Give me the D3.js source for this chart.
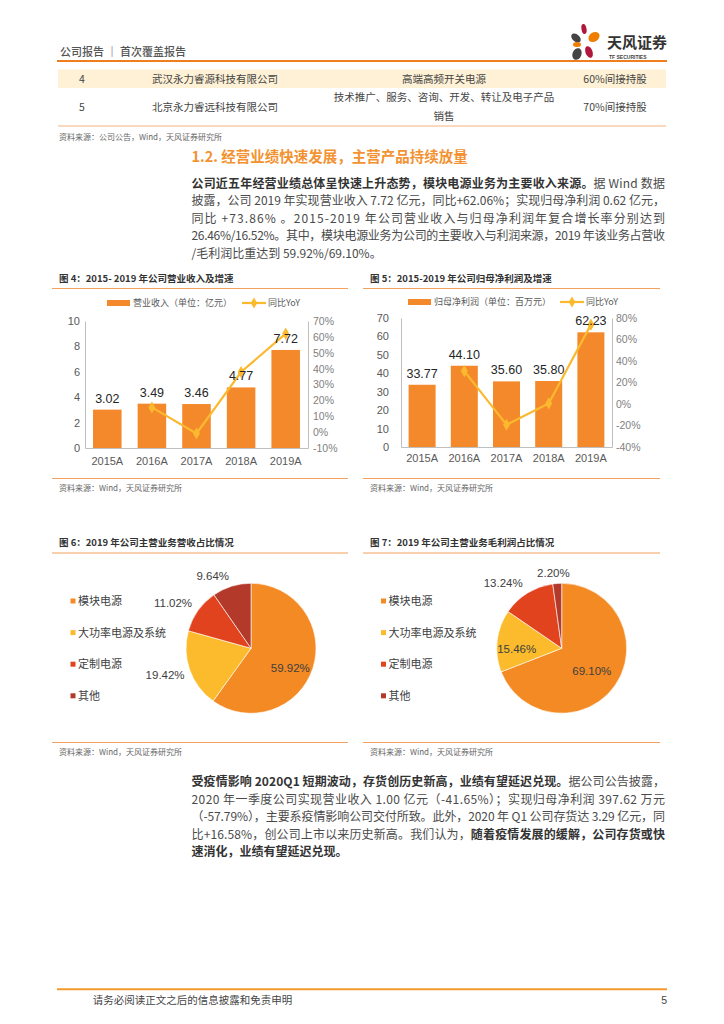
<!DOCTYPE html>
<html><head><meta charset="utf-8">
<script src="https://cdn.jsdelivr.net/npm/d3@7"></script>
<style>
body{margin:0;background:#fff}
svg{display:block}
text{font-family:"Noto Sans CJK SC","Liberation Sans",sans-serif}
.num{font-family:"Liberation Sans","Noto Sans CJK SC",sans-serif}
</style>
</head><body>
<svg id="page" width="724" height="1024"></svg>
<script>
// ---------------- data ----------------
const years = ["2015A","2016A","2017A","2018A","2019A"];
const revenue = [3.02,3.49,3.46,4.77,7.72];
const revenueYoY = [null,15.56,-0.86,37.86,62.06];
const profit = [33.77,44.10,35.60,35.80,62.23];
const profitYoY = [null,30.59,-19.27,0.56,73.83];
const revTicksLeft = [0,2,4,6,8,10];
const revTicksRight = [-10,0,10,20,30,40,50,60,70];
const profTicksLeft = [0,10,20,30,40,50,60,70];
const profTicksRight = [-40,-20,0,20,40,60,80];
const segments = ["模块电源","大功率电源及系统","定制电源","其他"];
const revenueShare = [59.92,19.42,11.02,9.64];
const grossShare = [69.10,15.46,13.24,2.20];
const tableRows = [
  {no:"4", name:"武汉永力睿源科技有限公司", biz:["高端高频开关电源"], hold:"60%间接持股"},
  {no:"5", name:"北京永力睿远科技有限公司", biz:["技术推广、服务、咨询、开发、转让及电子产品","销售"], hold:"70%间接持股"}
];

// ---------------- styles ----------------
const ORANGE = "#F4892B", LINEC = "#FBB92F";
const PIEC = ["#F38A23","#FBBB2C","#E0431D","#B33A2A"];
const svg = d3.select("#page");

// ---------------- header ----------------
svg.append("text").attr("x",60).attr("y",55.5).attr("font-size",11).attr("fill","#555")
  .attr("font-weight",500).text("公司报告 ｜ 首次覆盖报告");
svg.append("line").attr("x1",57).attr("x2",667).attr("y1",61).attr("y2",61)
  .attr("stroke","#EE7E1E").attr("stroke-width",2);
// logo
const logo = svg.append("g");
[[584,29,2.5,5,-10,"#B0173A"],[594,37,6,4.5,-35,"#EE7D00"],[576,38,3.5,5.5,-50,"#444"],
 [577,44.5,4,2.5,0,"#EE7D00"],[589,52,3.5,6,-20,"#B0173A"],[577,54,4.5,6,20,"#444"]]
 .forEach(p=>logo.append("ellipse").attr("cx",p[0]).attr("cy",p[1]).attr("rx",p[2]).attr("ry",p[3])
   .attr("transform",`rotate(${p[4]},${p[0]},${p[1]})`).attr("fill",p[5]));
svg.append("text").attr("x",607).attr("y",47.5).attr("font-size",15).attr("font-weight",700)
  .attr("fill","#333").text("天风证券");
svg.append("text").attr("x",609).attr("y",59).attr("font-size",5).attr("font-weight",700)
  .attr("fill","#444").attr("class","num").text("TF SECURITIES");

// ---------------- table ----------------
svg.append("rect").attr("x",58).attr("y",69.5).attr("width",608).attr("height",18.5).attr("fill","#FEF1D6");
const tcol = [{x:82,k:"no"},{x:215,k:"name"},{x:444,k:"biz"},{x:615,k:"hold"}];
const rowY = [79, 107.7];
tableRows.forEach((r,i)=>{
  tcol.forEach(c=>{
    if(c.k==="biz"){
      const lines=r.biz;
      lines.forEach((l,j)=>{
        const y = lines.length===1? rowY[i] : 97.7 + j*19;
        svg.append("text").attr("x",c.x).attr("y",y).attr("dy","0.36em").attr("text-anchor","middle")
          .attr("font-size",10.5).attr("fill","#444").text(l);
      });
    } else {
      svg.append("text").attr("x",c.x).attr("y",rowY[i]).attr("dy","0.36em").attr("text-anchor","middle")
        .attr("font-size",10.5).attr("fill","#444").text(r[c.k]);
    }
  });
});
svg.append("line").attr("x1",58).attr("x2",666).attr("y1",126).attr("y2",126).attr("stroke","#F5B27C").attr("stroke-width",1);
svg.append("text").attr("x",59).attr("y",140).attr("font-size",8).attr("fill","#666").text("资料来源：公司公告，Wind，天风证券研究所");

// ---------------- section heading and paragraphs ----------------
svg.append("text").attr("x",191.5).attr("y",161.5).attr("font-size",14.5).attr("font-weight",700)
  .attr("fill","#F39231").text("1.2. 经营业绩快速发展，主营产品持续放量");

function paragraph(lines, y0){
  lines.forEach((segs,i)=>{
    const t = svg.append("text").attr("x",191.5).attr("y",y0+i*17.5).attr("font-size",12).attr("fill","#444");
    if(segs.justify) t.attr("textLength",473.5).attr("lengthAdjust","spacing");
    segs.parts.forEach(p=>t.append("tspan").attr("font-weight",p[0]?700:400).attr("fill",p[0]?"#333":"#4a4a4a").text(p[1]));
  });
}
paragraph([
  {justify:true, parts:[[1,"公司近五年经营业绩总体呈快速上升态势，模块电源业务为主要收入来源。"],[0,"据 Wind 数据"]]},
  {justify:true, parts:[[0,"披露，公司 2019 年实现营业收入 7.72 亿元，同比+62.06%；实现归母净利润 0.62 亿元，"]]},
  {justify:true, parts:[[0,"同比 +73.86% 。2015-2019 年公司营业收入与归母净利润年复合增长率分别达到"]]},
  {justify:true, parts:[[0,"26.46%/16.52%。其中，模块电源业务为公司的主要收入与利润来源，2019 年该业务占营收"]]},
  {justify:false, parts:[[0,"/毛利润比重达到 59.92%/69.10%。"]]}
], 187.5);
paragraph([
  {justify:true, parts:[[1,"受疫情影响 2020Q1 短期波动，存货创历史新高，业绩有望延迟兑现。"],[0,"据公司公告披露，"]]},
  {justify:true, parts:[[0,"2020 年一季度公司实现营业收入 1.00 亿元（-41.65%）；实现归母净利润 397.62 万元"]]},
  {justify:true, parts:[[0,"（-57.79%），主要系疫情影响公司交付所致。此外，2020 年 Q1 公司存货达 3.29 亿元，同"]]},
  {justify:true, parts:[[0,"比+16.58%，创公司上市以来历史新高。我们认为，"],[1,"随着疫情发展的缓解，公司存货或快"]]},
  {justify:false, parts:[[1,"速消化，业绩有望延迟兑现。"]]}
], 786);

// ---------------- figure frames ----------------
function frame(x1,x2,titleY,lineY,botY,title){
  svg.append("text").attr("x",x1+7).attr("y",titleY).attr("dy","0.36em").attr("font-size",9.5)
    .attr("font-weight",700).attr("fill","#333").text(title);
  svg.append("line").attr("x1",x1).attr("x2",x2).attr("y1",lineY).attr("y2",lineY).attr("stroke","#F3A15C").attr("stroke-width",1);
  svg.append("line").attr("x1",x1).attr("x2",x2).attr("y1",botY).attr("y2",botY).attr("stroke","#F3A15C").attr("stroke-width",1);
  svg.append("text").attr("x",x1+7).attr("y",botY+10).attr("dy","0.36em").attr("font-size",8).attr("fill","#666")
    .text("资料来源：Wind，天风证券研究所");
}
frame(52,348,279,288.5,478.5,"图 4：2015- 2019 年公司营业收入及增速");
frame(363,660,279,288.5,478.5,"图 5：2015-2019 年公司归母净利润及增速");
frame(52,348,543,553,742.5,"图 6：2019 年公司主营业务营收占比情况");
frame(363,660,543,553,742.5,"图 7：2019 年公司主营业务毛利润占比情况");

// ---------------- bar + line charts ----------------
function barChart(o){
  const g = svg.append("g");
  const x = d3.scaleBand().domain(years).range([o.x0,o.x1]).paddingInner(0.36).paddingOuter(0.18);
  const yL = d3.scaleLinear().domain(d3.extent(o.leftTicks)).range([o.yb,o.yt]);
  const yR = d3.scaleLinear().domain(d3.extent(o.rightTicks)).range([o.yb,o.yt]);
  // bars
  g.selectAll("rect.bar").data(o.values).join("rect").attr("class","bar")
    .attr("x",(d,i)=>x(years[i])).attr("width",x.bandwidth())
    .attr("y",d=>yL(d)).attr("height",d=>o.yb-yL(d)).attr("fill",ORANGE);
  // axes
  const axL = g.append("g").attr("transform",`translate(${o.x0},0)`)
    .call(d3.axisLeft(yL).tickValues(o.leftTicks).tickSize(0).tickPadding(o.lpad).tickFormat(d3.format("d")));
  const axR = g.append("g").attr("transform",`translate(${o.x1},0)`)
    .call(d3.axisRight(yR).tickValues(o.rightTicks).tickSize(0).tickPadding(o.rpad).tickFormat(d=>d+"%"));
  const axB = g.append("g").attr("transform",`translate(0,${o.yb})`)
    .call(d3.axisBottom(x).tickSize(0).tickPadding(o.bpad));
  [axL,axR,axB].forEach(a=>{
    a.select(".domain").attr("stroke","#bfbfbf");
    a.selectAll("text").attr("class","num").attr("font-size",11).attr("fill","#595959");
  });
  axR.selectAll("text").attr("font-size",10.5).attr("fill","#7f7f7f");
  // line
  const pts = o.yoy.map((v,i)=>({v,i})).filter(d=>d.v!==null);
  const line = d3.line().x(d=>x(years[d.i])+x.bandwidth()/2).y(d=>yR(d.v));
  g.append("path").datum(pts).attr("d",line).attr("fill","none").attr("stroke",LINEC).attr("stroke-width",2.2);
  g.selectAll("path.mk").data(pts).join("path").attr("class","mk")
    .attr("transform",d=>`translate(${x(years[d.i])+x.bandwidth()/2},${yR(d.v)})`)
    .attr("d",d3.symbol(d3.symbolDiamond,42)).attr("fill",LINEC);
  // value labels
  g.selectAll("text.val").data(o.values).join("text").attr("class","val num")
    .attr("x",(d,i)=>x(years[i])+x.bandwidth()/2).attr("y",d=>yL(d)-7)
    .attr("text-anchor","middle").attr("font-size",12.5).attr("fill","#262626")
    .text(d=>d.toFixed(2));
  // legend
  const lg = g.append("g");
  lg.append("rect").attr("x",o.lg[0]).attr("y",o.lgy-3).attr("width",23).attr("height",6).attr("fill",ORANGE);
  lg.append("text").attr("x",o.lg[0]+26).attr("y",o.lgy).attr("dy","0.36em").attr("font-size",9).attr("fill","#595959").text(o.label);
  lg.append("line").attr("x1",o.lg[1]).attr("x2",o.lg[1]+24).attr("y1",o.lgy).attr("y2",o.lgy).attr("stroke",LINEC).attr("stroke-width",2.2);
  lg.append("path").attr("transform",`translate(${o.lg[1]+12},${o.lgy})`).attr("d",d3.symbol(d3.symbolDiamond,36)).attr("fill",LINEC);
  lg.append("text").attr("x",o.lg[1]+26).attr("y",o.lgy).attr("dy","0.36em").attr("font-size",9).attr("fill","#595959").text("同比YoY");
}
barChart({x0:85,x1:308,yt:321,yb:448,values:revenue,yoy:revenueYoY,leftTicks:revTicksLeft,rightTicks:revTicksRight,
  lpad:5,rpad:5,bpad:9,lg:[107,242],lgy:303,label:"营业收入（单位：亿元）"});
barChart({x0:401,x1:612,yt:318,yb:447,values:profit,yoy:profitYoY,leftTicks:profTicksLeft,rightTicks:profTicksRight,
  lpad:12,rpad:4,bpad:7,lg:[408,560],lgy:302,label:"归母净利润（单位：百万元）"});

// ---------------- pies ----------------
function pieChart(o){
  const g = svg.append("g").attr("transform",`translate(${o.cx},${o.cy})`);
  const arcs = d3.pie().sort(null)(o.values);
  const arc = d3.arc().innerRadius(0).outerRadius(65);
  g.selectAll("path").data(arcs).join("path").attr("d",arc).attr("fill",(d,i)=>PIEC[i])
    .attr("stroke","#fff").attr("stroke-width",0.6);
  g.selectAll("text").data(arcs).join("text").attr("class","num")
    .attr("transform",(d,i)=>{
      const a = (d.startAngle+d.endAngle)/2 + o.dAng[i]*Math.PI/180;
      const r = o.labR[i];
      return `translate(${r*Math.sin(a)},${-r*Math.cos(a)})`;
    })
    .attr("text-anchor","middle").attr("dy","0.36em").attr("font-size",11.5).attr("fill","#404040")
    .text(d=>d.data.toFixed(2)+"%");
  // legend
  const lg = svg.append("g");
  segments.forEach((s,i)=>{
    const y = 601 + i*31.6;
    lg.append("rect").attr("x",o.lx).attr("y",y-2.5).attr("width",5).attr("height",5).attr("fill",PIEC[i]);
    lg.append("text").attr("x",o.lx+7.5).attr("y",y).attr("dy","0.36em").attr("font-size",11).attr("fill","#404040").text(s);
  });
}
pieChart({cx:251,cy:648.3,values:revenueShare,labR:[44,90,90,82],dAng:[9,2,-5.5,-10.5],lx:70.5});
pieChart({cx:561.7,cy:648.3,values:grossShare,labR:[37.5,45,87.5,75.5],dAng:[2.3,-7.9,-10.2,-2.4],lx:381});

// ---------------- footer ----------------
svg.append("line").attr("x1",57).attr("x2",667).attr("y1",989.3).attr("y2",989.3).attr("stroke","#F39A2E").attr("stroke-width",2);
svg.append("text").attr("x",92.7).attr("y",1000).attr("dy","0.36em").attr("font-size",10.5).attr("fill","#444")
  .text("请务必阅读正文之后的信息披露和免责申明");
svg.append("text").attr("x",667).attr("y",1000).attr("dy","0.36em").attr("text-anchor","end").attr("class","num")
  .attr("font-size",10.5).attr("fill","#444").text("5");
</script>
</body></html>
